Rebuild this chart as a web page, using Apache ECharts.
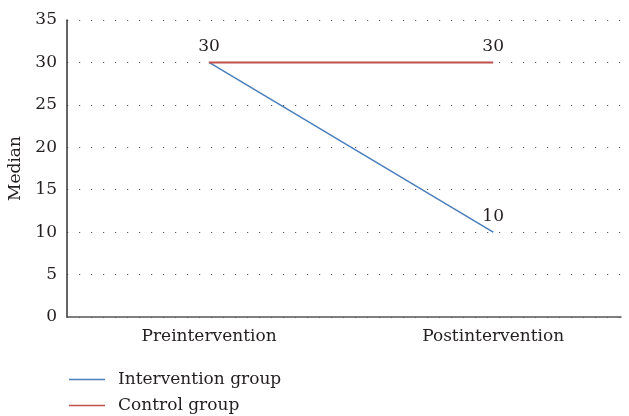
<!DOCTYPE html>
<html><head><meta charset="utf-8">
<script src="https://cdn.jsdelivr.net/npm/echarts@6/dist/echarts.min.js"></script>
<style>html,body{margin:0;padding:0;background:#fff}#c{width:629px;height:416px}</style>
</head><body><div id="c"></div>
<script>
const categories = ['Preintervention', 'Postintervention'];
const seriesNames = ['Intervention group', 'Control group'];
const interventionValues = [30, 10];
const controlValues = [30, 30];
const yTicks = [0, 5, 10, 15, 20, 25, 30, 35];

const FONT = 'DejaVu Serif';
const FS = 17;
const TXT = '#231f20';
const chart = echarts.init(document.getElementById('c'));
const pts = vals => vals.map((v, i) => [i, v]);
chart.setOption({
  animation: false,
  grid: { left: 67, right: 8, top: 20, bottom: 99, outerBoundsMode: 'none', containLabel: false },
  legend: {
    orient: 'vertical', left: 64, top: 366, height: 50, itemWidth: 36, itemHeight: 1.5, itemGap: 9,
    icon: 'rect',
    textStyle: { fontFamily: FONT, fontSize: FS, color: TXT, padding: [0, 0, 0, 8] },
    data: seriesNames
  },
  xAxis: {
    type: 'value', min: -0.5, max: 1.45, interval: 0.5,
    axisLine: { show: true, onZero: false, lineStyle: { color: '#555', width: 1.5 } },
    axisTick: { show: false }, splitLine: { show: false },
    axisLabel: {
      fontFamily: FONT, fontSize: FS, color: TXT, margin: 11, showMaxLabel: false,
      formatter: v => (Math.abs(v - Math.round(v)) < 1e-6 && categories[Math.round(v)]) || ''
    }
  },
  yAxis: {
    type: 'value', min: yTicks[0], max: yTicks[yTicks.length - 1], interval: 5,
    name: 'Median', nameLocation: 'middle', nameGap: 43,
    nameTextStyle: { fontFamily: FONT, fontSize: FS, color: TXT },
    axisLine: { show: true, onZero: false, lineStyle: { color: '#333', width: 1.5 } },
    axisTick: { show: false },
    axisLabel: { fontFamily: FONT, fontSize: FS, color: TXT, margin: 10 },
    splitLine: { show: true, lineStyle: { color: '#555', type: [1.2, 10.8], width: 1.2 } }
  },
  series: [
    {
      name: seriesNames[0], type: 'line', data: pts(interventionValues), showSymbol: true, symbolSize: 0.1,
      lineStyle: { color: '#4a7ebb', width: 1.5 }, itemStyle: { color: '#4a7ebb' },
      label: { show: true, position: 'top', distance: 6, fontFamily: FONT, fontSize: FS, color: TXT,
        formatter: p => p.dataIndex === 0 ? '' : String(p.value[1]) }
    },
    {
      name: seriesNames[1], type: 'line', data: pts(controlValues), showSymbol: true, symbolSize: 0.1,
      lineStyle: { color: '#c0504d', width: 2 }, itemStyle: { color: '#c0504d' },
      label: { show: true, position: 'top', distance: 6, fontFamily: FONT, fontSize: FS, color: TXT,
        formatter: p => String(p.value[1]) }
    }
  ]
});
</script></body></html>
